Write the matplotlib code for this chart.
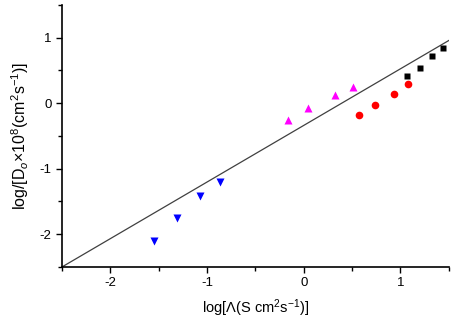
import numpy as np
import matplotlib
matplotlib.use('Agg')
import matplotlib.pyplot as plt

plt.rcParams['font.family'] = ['Liberation Sans', 'DejaVu Sans']
plt.rcParams['mathtext.fontset'] = 'custom'
plt.rcParams['mathtext.rm'] = 'Liberation Sans'
plt.rcParams['mathtext.it'] = 'Liberation Sans:italic'
plt.rcParams['axes.unicode_minus'] = False

# data
blue_x = [-1.55, -1.31, -1.07, -0.87]
blue_y = [-2.11, -1.76, -1.42, -1.21]
magenta_x = [-0.16, 0.04, 0.32, 0.51]
magenta_y = [-0.26, -0.08, 0.12, 0.24]
red_x = [0.57, 0.74, 0.935, 1.08]
red_y = [-0.18, -0.035, 0.135, 0.29]
black_x = [1.07, 1.20, 1.33, 1.44]
black_y = [0.42, 0.54, 0.72, 0.84]

# reference line
fit_slope = 0.864
fit_icpt = -0.34
line_x = np.array([-2.5, 1.5])

fig = plt.figure(figsize=(4.54, 3.22), dpi=100)
ax = fig.add_axes([0.1366, 0.171, 0.852, 0.814])

ax.plot(line_x, fit_slope * line_x + fit_icpt, color='#404040', lw=0.9)
ax.plot(blue_x, blue_y, 'v', color='#0000ff', ms=6, mec='none')
ax.plot(magenta_x, magenta_y, '^', color='#ff00ff', ms=6, mec='none')
ax.plot(red_x, red_y, 'o', color='#ff0000', ms=5.5, mec='none')
ax.plot(black_x, black_y, 's', color='black', ms=5, mec='none')

ax.set_xlim(-2.5, 1.5)
ax.set_ylim(-2.5, 1.5)
ax.set_xticks([-2, -1, 0, 1])
ax.set_yticks([-2, -1, 0, 1])
ax.set_xticks(np.arange(-2.5, 1.6, 0.5), minor=True)
ax.set_yticks(np.arange(-2.5, 1.6, 0.5), minor=True)
ax.tick_params(which='both', direction='out', width=1, labelsize=9.5)
ax.tick_params(which='major', length=4)
ax.tick_params(which='minor', length=3)

for s in ['top', 'right']:
    ax.spines[s].set_visible(False)
for s in ['left', 'bottom']:
    ax.spines[s].set_linewidth(1.2)

ax.set_xlabel(r'log[$\mathit{\Lambda}$(S cm$^2$s$^{-1}$)]', fontsize=10.5, labelpad=6)
ax.set_ylabel(r'log/[D$_o$$\times$10$^8$(cm$^2$s$^{-1}$)]', fontsize=11.5, labelpad=6)

fig.savefig('out.png', dpi=100)
